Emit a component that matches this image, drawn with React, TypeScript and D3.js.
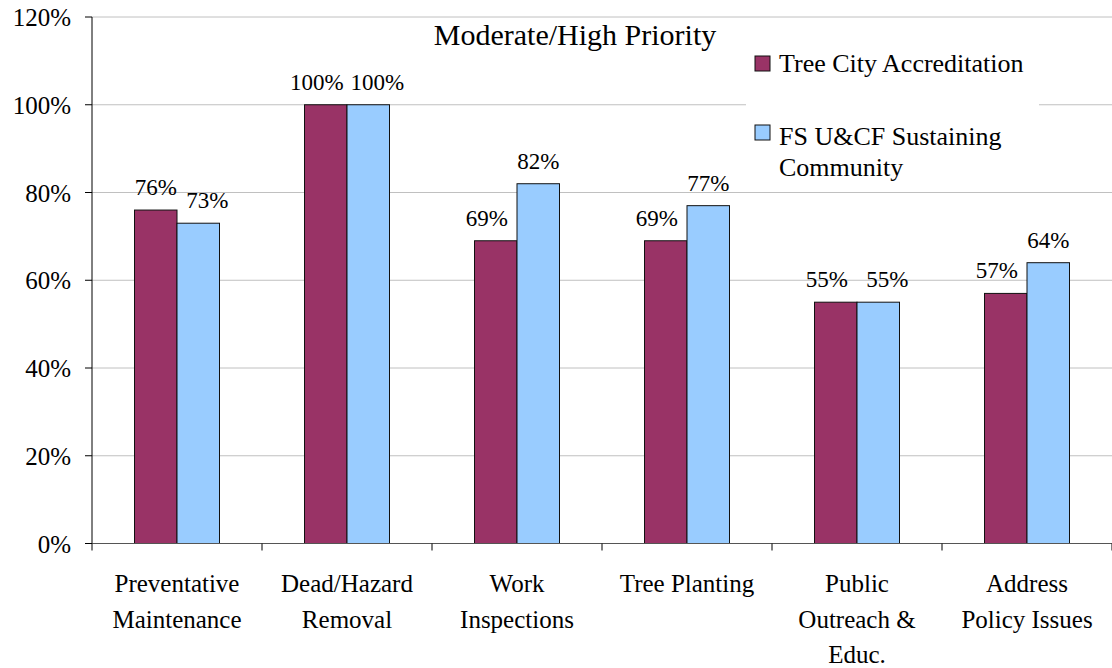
import React from "react";
import * as d3 from "d3";

const categories = [
  ["Preventative", "Maintenance"],
  ["Dead/Hazard", "Removal"],
  ["Work", "Inspections"],
  ["Tree Planting"],
  ["Public", "Outreach &", "Educ."],
  ["Address", "Policy Issues"],
];
const seriesNames = ["Tree City Accreditation", "FS U&CF Sustaining Community"];
const treeCity = [76, 100, 69, 69, 55, 57];
const fsUcf = [73, 100, 82, 77, 55, 64];
const yTicks = [0, 20, 40, 60, 80, 100, 120];
const title = "Moderate/High Priority";

const colors = ["#993366", "#99ccff"];
const font = "'Liberation Serif', 'Times New Roman', serif";

const W = 1112;
const H = 668;
const margin = { left: 92, right: 0, top: 17, bottom: 124.5 };

export default function App() {
  const x0 = d3
    .scaleBand<number>()
    .domain(d3.range(categories.length))
    .range([margin.left, W - margin.right])
    .padding(0);
  const bw = x0.bandwidth();
  const x1 = d3
    .scaleBand<number>()
    .domain([0, 1])
    .range([bw / 4, (bw * 3) / 4])
    .padding(0);
  const y = d3
    .scaleLinear()
    .domain([0, 120])
    .range([H - margin.bottom, margin.top]);
  const fmt = (v: number) => `${v}%`;
  const series = [treeCity, fsUcf];

  return (
    <div style={{ position: "absolute", left: 0, top: 0 }}>
      <svg width={W} height={H} viewBox={`0 0 ${W} ${H}`} style={{ display: "block" }}>
        <rect width={W} height={H} fill="#fff" />
        {/* gridlines */}
        {yTicks.map((t) => (
          <line
            key={"g" + t}
            x1={margin.left}
            x2={W}
            y1={y(t)}
            y2={y(t)}
            stroke="#c0c0c0"
            strokeWidth={1}
          />
        ))}
        {/* legend background */}
        <rect x={746} y={30} width={293} height={158} fill="#fff" />

        {/* bars */}
        {series.map((vals, si) =>
          vals.map((v, ci) => (
            <rect
              key={`b${si}-${ci}`}
              x={(x0(ci) as number) + (x1(si) as number)}
              y={y(v)}
              width={x1.bandwidth()}
              height={y(0) - y(v)}
              fill={colors[si]}
              stroke="#111"
              strokeWidth={1}
            />
          ))
        )}

        {/* value labels */}
        {series.map((vals, si) =>
          vals.map((v, ci) => {
            const other = series[1 - si][ci];
            const shift = other >= v ? (si === 0 ? -9 : 9) : 0;
            const cx = (x0(ci) as number) + (x1(si) as number) + x1.bandwidth() / 2 + shift;
            return (
              <text
                key={`l${si}-${ci}`}
                x={cx}
                y={y(v) - 15}
                textAnchor="middle"
                fontFamily={font}
                fontSize={23}
                fill="#000"
              >
                {fmt(v)}
              </text>
            );
          })
        )}

        {/* y axis */}
        <line x1={margin.left} x2={margin.left} y1={y(120)} y2={y(0)} stroke="#000" strokeWidth={1} />
        {yTicks.map((t) => (
          <g key={"yt" + t}>
            <line x1={margin.left - 7} x2={margin.left} y1={y(t)} y2={y(t)} stroke="#000" />
            <text
              x={71}
              y={y(t) + 9}
              textAnchor="end"
              fontFamily={font}
              fontSize={25}
              fill="#000"
            >
              {fmt(t)}
            </text>
          </g>
        ))}

        {/* x axis */}
        <line x1={margin.left} x2={W} y1={y(0)} y2={y(0)} stroke="#555" strokeWidth={1.2} />
        {d3.range(categories.length + 1).map((i) => {
          const xx = margin.left + i * bw;
          return <line key={"xt" + i} x1={xx} x2={xx} y1={y(0)} y2={y(0) + 7} stroke="#000" />;
        })}
        {categories.map((lines, ci) => (
          <text
            key={"c" + ci}
            x={(x0(ci) as number) + bw / 2}
            y={592}
            textAnchor="middle"
            fontFamily={font}
            fontSize={25}
            fill="#000"
          >
            {lines.map((ln, li) => (
              <tspan key={li} x={(x0(ci) as number) + bw / 2} dy={li === 0 ? 0 : 35.5}>
                {ln}
              </tspan>
            ))}
          </text>
        ))}

        {/* title */}
        <text x={575} y={45} textAnchor="middle" fontFamily={font} fontSize={30} fill="#000">
          {title}
        </text>

        {/* legend */}
        <rect x={755} y={56} width={15} height={15} fill={colors[0]} stroke="#111" />
        <text x={779} y={72} fontFamily={font} fontSize={26} fill="#000">
          {seriesNames[0]}
        </text>
        <rect x={755} y={125} width={15} height={15} fill={colors[1]} stroke="#111" />
        <text x={779} y={145} fontFamily={font} fontSize={26} fill="#000">
          <tspan x={779}>FS U&amp;CF Sustaining</tspan>
          <tspan x={779} dy={31}>
            Community
          </tspan>
        </text>
      </svg>
    </div>
  );
}
